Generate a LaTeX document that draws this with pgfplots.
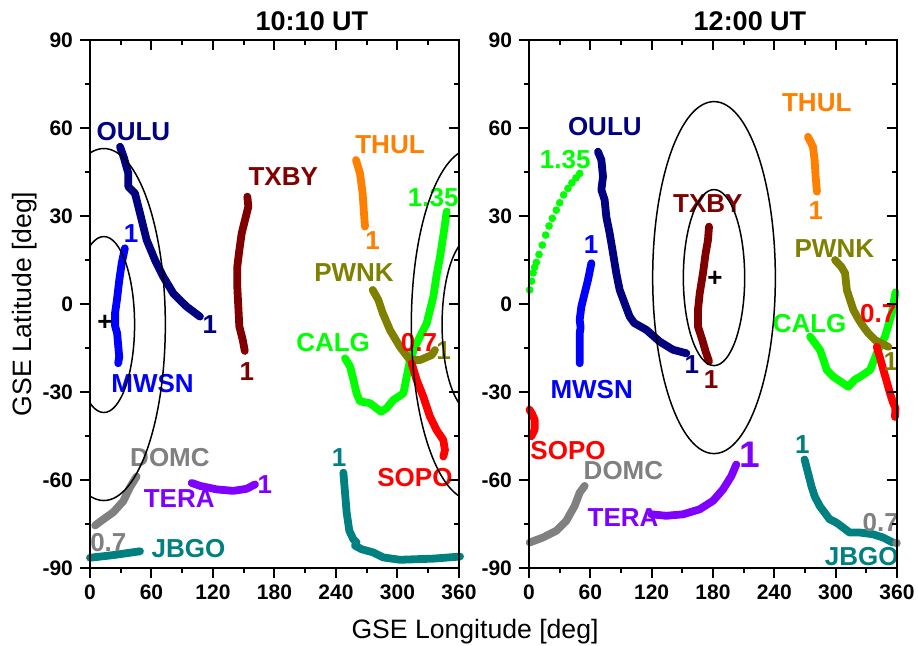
\documentclass[border=0pt]{standalone}
\usepackage{pgfplots}
\pgfplotsset{compat=1.18}
\usepackage{fontspec}
\setmainfont{Liberation Sans}
\definecolor{cnavy}{HTML}{000080}
\definecolor{cblue}{HTML}{0000FF}
\definecolor{cdred}{HTML}{800000}
\definecolor{corange}{HTML}{FF8000}
\definecolor{colive}{HTML}{808000}
\definecolor{cgreen}{HTML}{00FF00}
\definecolor{cred}{HTML}{FF0000}
\definecolor{cgray}{HTML}{808080}
\definecolor{cpurple}{HTML}{8000FF}
\definecolor{cteal}{HTML}{008080}
\tikzset{
  curve/.style={line width=3.9pt, line cap=round, line join=round},
  lab/.style={font=\bfseries\fontsize{13}{15}\selectfont, inner sep=0pt},
}
\pgfplotsset{
  panel/.style={
    scale only axis, width=184.5pt, height=264pt,
    xmin=0,xmax=360,ymin=-90,ymax=90,
    xtick={0,60,120,180,240,300,360}, minor xtick={30,90,150,210,270,330},
    ytick={-90,-60,-30,0,30,60,90}, minor ytick={-75,-45,-15,15,45,75},
    axis line style={line width=1pt},
    major tick length=5pt, minor tick length=2.5pt,
    tick style={line width=1pt, black},
  },
  mainax/.style={panel, tick align=outside, tick pos=left, clip=false,
    xticklabels={0,60,120,180,240,300,360},
    yticklabels={-90,-60,-30,0,30,60,90},
    ticklabel style={font=\bfseries\fontsize{10.5}{12}\selectfont},
  },
  mirrorax/.style={panel, tick align=inside, tick pos=right, xticklabels={}, yticklabels={}, clip=true},
}
\begin{document}
\begin{tikzpicture}
\useasboundingbox (-45pt,-38.5pt) rectangle (414pt,284pt);
% ---------------- left panel ----------------
\begin{axis}[mainax, at={(0pt,0pt)}, anchor=south west]
\addplot[curve, cnavy] coordinates {(29.3,53.6) (33,50) (37.4,44.5) (37.4,40) (43.9,37.7) (48.8,30.9) (52,26.4) (55.3,21.8) (63.4,15) (71.5,9.3) (81.3,3.6) (94.3,-0.9) (107.3,-4.3)};
\addplot[curve, cblue] coordinates {(34,19) (31,14) (28.5,8) (26.5,2) (24.5,-3) (24.5,-7.5) (26.5,-10) (27.6,-14.5) (28.5,-18) (27.5,-20.2)};
\addplot[curve, cdred] coordinates {(153.5,36.6) (154.5,33.2) (151.2,28.6) (148,24.1) (145.7,18.4) (143.7,12.7) (143.7,5.9) (144.7,-0.9) (145.7,-7.7) (149,-12.2) (151,-16)};
\addplot[curve, corange] coordinates {(259.5,49.1) (263.4,44.5) (266,37.7) (267.3,30.9) (268.3,26.4)};
\addplot[curve, cgreen] coordinates {(248.8,-18.5) (253.7,-21.3) (257,-25.8) (260,-30.4) (263.4,-33.2) (273,-33.8) (284,-36.7) (289.4,-35.5) (296,-32.7) (305.7,-30.5) (309,-24.8) (312.2,-19.1) (317,-14.6) (322,-11.1) (328.5,-6.6) (331.7,-2) (335,2.5) (338.2,10) (341.5,16.1) (345,24) (348,31.5)};
\addplot[curve, colive] coordinates {(275.8,4.8) (281.3,1.4) (285.5,-3) (292.7,-8.9) (302.4,-14.6) (312.2,-19.1) (322,-19.1) (333.4,-17.4) (336.6,-15.7)};
\addplot[curve, cred] coordinates {(313.8,-20.2) (318.7,-25.9) (325.2,-31.6) (331.7,-38.4) (338.2,-43) (344.7,-46.4) (346.3,-49.8) (344.7,-52)};
\addplot[curve, cgray] coordinates {(5,-75.5) (13,-73.4) (22.7,-71) (32.5,-67.2) (39,-62.5) (45.5,-58.8)};
\addplot[curve, cpurple] coordinates {(99.2,-61) (107.3,-62) (123.6,-63.2) (139.8,-63.7) (152.8,-63) (161,-61.5)};
\addplot[curve, cteal] coordinates {(0,-86.5) (22.7,-85.6) (48.8,-84.3)};
\addplot[curve, cteal] coordinates {(247.2,-57.5) (248.8,-64.3) (250.4,-71.1) (253,-77.3) (256.9,-80.2) (260,-81.3) (258.5,-82.4) (265,-83.6) (276.4,-84.7) (286.2,-86.4) (302.4,-87.2) (335,-86.8) (361,-86.1)};
% labels
\node[lab, text=cnavy] at (axis cs:42.3,58.8) {OULU};
\node[lab, text=cnavy] at (axis cs:117,-7) {1};
\node[lab, text=cblue] at (axis cs:40,24) {1};
\node[lab, text=cblue] at (axis cs:61,-27.2) {MWSN};
\node[lab, text=black] at (axis cs:14.6,-6.6) {+};
\node[lab, text=cdred] at (axis cs:188.5,43.4) {TXBY};
\node[lab, text=cdred] at (axis cs:153,-23.1) {1};
\node[lab, text=corange] at (axis cs:292.7,54.2) {THUL};
\node[lab, text=corange] at (axis cs:275.7,21.8) {1};
\node[lab, text=colive] at (axis cs:257.6,10.8) {PWNK};
\node[lab, text=cgreen] at (axis cs:334.8,36.3) {1.35};
\node[lab, text=cgreen] at (axis cs:237.2,-13.2) {CALG};
\node[lab, text=cred] at (axis cs:321,-13.2) {0.7};
\node[lab, text=colive] at (axis cs:345,-15.7) {1};
\node[lab, text=cred] at (axis cs:317,-59.1) {SOPO};
\node[lab, text=cgray] at (axis cs:78,-52.4) {DOMC};
\node[lab, text=cgray] at (axis cs:17.9,-81.3) {0.7};
\node[lab, text=cpurple] at (axis cs:87,-66.2) {TERA};
\node[lab, text=cpurple] at (axis cs:170.7,-61.6) {1};
\node[lab, text=cteal] at (axis cs:96,-83.2) {JBGO};
\node[lab, text=cteal] at (axis cs:243,-52.3) {1};
\end{axis}
\begin{axis}[mirrorax, at={(0pt,0pt)}, anchor=south west]
\draw[black, line width=0.75pt] (axis cs:13.5,-7) ellipse [x radius=30, y radius=30];
\draw[black, line width=0.75pt] (axis cs:13.5,-7) ellipse [x radius=60, y radius=60];
\draw[black, line width=0.75pt] (axis cs:373.5,-7) ellipse [x radius=30, y radius=30];
\draw[black, line width=0.75pt] (axis cs:373.5,-7) ellipse [x radius=60, y radius=60];
\end{axis}
% ---------------- right panel ----------------
\begin{axis}[mainax, at={(219.5pt,0pt)}, anchor=south west, width=184pt]
\addplot[only marks, mark=*, mark size=1.7pt, cgreen] coordinates {(0.7,4.8) (2.5,7.8) (4,10.6) (5.5,12.5) (7.2,14.2) (9.8,16.9) (13,20.1) (16.3,23.5) (19.6,26.6) (22.8,29.2) (26.7,32) (30,34.5) (33.9,37.2) (38.1,39.4) (42,41.3) (46,43) (49.6,44.5)};
\addplot[curve, cnavy] coordinates {(67.5,51.9) (70.8,49.1) (72.4,43.4) (70.8,38.9) (74,35.5) (75.6,29.8) (78.9,24.1) (82.2,17.3) (85.4,10.5) (88.7,4.8) (93.6,0.2) (98.5,-4.3) (103,-6.5) (114.8,-8.8) (127.8,-12.8) (140.9,-15.6) (153.9,-16.8)};
\addplot[curve, cblue] coordinates {(61,13.9) (57.7,8.2) (54.4,3.6) (51.2,-0.9) (49.6,-5.4) (50.5,-8) (49.6,-10) (49.6,-14.5) (49.6,-20.2)};
\addplot[curve, cdred] coordinates {(176.1,26.4) (175.1,21.8) (172.8,17.3) (170.2,10.5) (167,3.6) (165.3,-2) (165.3,-7.7) (169.5,-12.2) (172.8,-16.2) (176.1,-19.6)};
\addplot[curve, corange] coordinates {(272.9,57) (277.8,53.6) (279.4,49.1) (280.4,43.4) (281.7,38.3)};
\addplot[curve, cgreen] coordinates {(275,-11.1) (284.7,-15.7) (288,-19) (291.3,-22.5) (297.7,-24.8) (305,-26.5) (312.4,-28.2) (318.6,-25.8) (323.9,-24.8) (333.7,-22.5) (340.2,-16.8) (348.3,-11.1) (354.9,-3.2) (358.5,4)};
\addplot[curve, colive] coordinates {(299.4,15) (305.5,12.7) (309.2,10.5) (310.9,4.8) (317.3,-2) (322,-5) (327.1,-7.7) (332,-10) (338.6,-12.3) (345,-13.5) (351.6,-14.6)};
\addplot[curve, cred] coordinates {(0.5,-36) (3,-37.5) (5.5,-39.4) (5.5,-42.8) (2.3,-45.1)};
\addplot[curve, cred] coordinates {(340.2,-14.6) (343.5,-18.5) (346.7,-22.5) (350,-26.5) (353.2,-30.5) (356,-33.5) (358.5,-35.5) (358,-38.5)};
\addplot[curve, cgray] coordinates {(0.7,-81.3) (13.7,-79.6) (26.7,-77.3) (36.5,-73.9) (44.7,-68.8) (49.6,-64.3) (54.5,-62)};
\addplot[curve, cpurple] coordinates {(119.7,-71.7) (134.3,-72.2) (150.6,-71.7) (166.9,-70) (180,-67.1) (189.8,-63.2) (197.9,-58.7) (202.8,-54.7)};
\addplot[curve, cteal] coordinates {(269.6,-53) (272.9,-57.5) (276.2,-62) (279.4,-65.5) (284.3,-68.8) (289.2,-71.1) (294.1,-73.4) (300.6,-74.5) (307.2,-76.2) (313.7,-77.9) (323.5,-77.9) (336.5,-78.5) (346.3,-79.6) (356,-81.3)};
\addplot[only marks, mark=*, mark size=1.9pt, cgray] coordinates {(359.5,-81.5)};
% labels
\node[lab, text=cnavy] at (axis cs:74.2,60.5) {OULU};
\node[lab, text=cgreen] at (axis cs:35.5,49.1) {1.35};
\node[lab, text=cblue] at (axis cs:60.8,20.1) {1};
\node[lab, text=cblue] at (axis cs:61.3,-29.2) {MWSN};
\node[lab, text=cnavy] at (axis cs:159.2,-20.8) {1};
\node[lab, text=cdred] at (axis cs:175,34.4) {TXBY};
\node[lab, text=black] at (axis cs:182,8.4) {+};
\node[lab, text=cdred] at (axis cs:178.2,-25.9) {1};
\node[lab, text=corange] at (axis cs:281.5,68.8) {THUL};
\node[lab, text=corange] at (axis cs:280.6,32) {1};
\node[lab, text=colive] at (axis cs:298.7,19) {PWNK};
\node[lab, text=cred] at (axis cs:341.6,-3.1) {0.7};
\node[lab, text=colive] at (axis cs:354,-19.6) {1};
\node[lab, text=cgreen] at (axis cs:274.5,-6.8) {CALG};
\node[lab, text=cred] at (axis cs:38.2,-49.8) {SOPO};
\node[lab, text=cgray] at (axis cs:92.4,-56.8) {DOMC};
\node[lab, text=cpurple] at (axis cs:92,-72.9) {TERA};
\node[lab, text=cpurple, font=\bfseries\fontsize{18.5}{20}\selectfont] at (axis cs:215.6,-51.5) {1};
\node[lab, text=cteal] at (axis cs:267.5,-47.8) {1};
\node[lab, text=cgray] at (axis cs:344,-74.5) {0.7};
\node[lab, text=cteal] at (axis cs:325.5,-86) {JBGO};
\end{axis}
\begin{axis}[mirrorax, at={(219.5pt,0pt)}, anchor=south west, width=184pt]
\draw[black, line width=0.75pt] (axis cs:181,9) ellipse [x radius=30, y radius=30];
\draw[black, line width=0.75pt] (axis cs:181,9) ellipse [x radius=60, y radius=60];
\end{axis}
% titles and axis labels
\node[font=\bfseries\fontsize{13.5}{15}\selectfont, anchor=base] at (111pt,269pt) {10:10 UT};
\node[font=\bfseries\fontsize{13.5}{15}\selectfont, anchor=base] at (330pt,269pt) {12:00 UT};
\node[font=\fontsize{13.3}{15}\selectfont, anchor=base] at (192.5pt,-35.2pt) {GSE Longitude [deg]};
\node[font=\fontsize{13.3}{15}\selectfont, anchor=base, rotate=90] at (-29.2pt,132pt) {GSE Latitude [deg]};
\end{tikzpicture}
\end{document}
